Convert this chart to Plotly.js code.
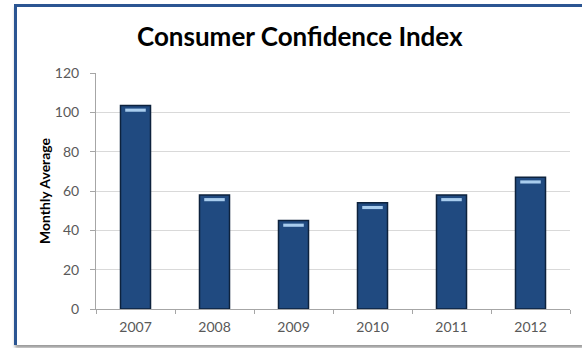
<!DOCTYPE html>
<html>
<head>
<meta charset="utf-8">
<script src="https://cdn.plot.ly/plotly-3.0.1.min.js"></script>
<style>
  html, body { margin: 0; padding: 0; background: #ffffff; }
  #wrap { position: relative; width: 582px; height: 348px; overflow: hidden; background: #ffffff; }
  #frame { position: absolute; left: 14px; top: 4px; width: 566px; height: 338px;
           border-left: 3px solid #2b5592; border-top: 3px solid #2b5592;
           box-shadow: 1px 3px 3px rgba(0,0,0,0.4); background: #ffffff; }
  #chart { position: absolute; left: 0; top: 0; width: 582px; height: 348px; }
</style>
</head>
<body>
<div id="wrap">
  <div id="frame"></div>
  <div id="chart"></div>
</div>
<script>
const years = ['2007', '2008', '2009', '2010', '2011', '2012'];
const monthlyAverage = [103.5, 58, 45, 54, 58, 67];
const yTicks = [0, 20, 40, 60, 80, 100, 120];
const chartTitle = 'Consumer Confidence Index';
const yTitle = 'Monthly Average';

const highlightBase = monthlyAverage.map(v => v - 3.2);
const highlightHeight = monthlyAverage.map(() => 1.6);

const traces = [
  {
    type: 'bar',
    x: years,
    y: monthlyAverage,
    width: 0.38,
    marker: { color: '#204a80', line: { color: '#0d223d', width: 1.5 } },
    hoverinfo: 'x+y'
  },
  {
    type: 'bar',
    x: years,
    y: highlightHeight,
    base: highlightBase,
    width: 0.26,
    marker: { color: '#a9cdee', line: { width: 0 } },
    hoverinfo: 'skip'
  }
];

const layout = {
  width: 582, height: 348,
  margin: { l: 96, r: 12, t: 73, b: 39 },
  paper_bgcolor: 'rgba(0,0,0,0)',
  plot_bgcolor: 'rgba(0,0,0,0)',
  showlegend: false,
  barmode: 'overlay',
  font: { family: 'Lato, "Open Sans", sans-serif', color: '#595959', size: 13 },
  title: {
    text: '<b>' + chartTitle + '</b>',
    font: { family: 'Lato, "Open Sans", sans-serif', size: 26, color: '#000000' },
    x: 0.43, xanchor: 'center', xref: 'paper',
    y: 0.893, yref: 'container', yanchor: 'middle'
  },
  xaxis: {
    type: 'category',
    tickson: 'boundaries',
    ticks: 'outside', ticklen: 4, tickcolor: '#a6a6a6', tickwidth: 1,
    showline: true, linecolor: '#a6a6a6', linewidth: 1,
    showgrid: false, zeroline: false,
    tickfont: { size: 14, color: '#595959' },
    ticklabelstandoff: 5,
    fixedrange: true
  },
  yaxis: {
    range: [0, 120],
    tickvals: yTicks,
    ticktext: yTicks.map(String),
    ticks: 'outside', ticklen: 5, tickcolor: '#a6a6a6', tickwidth: 1,
    showline: true, linecolor: '#a6a6a6', linewidth: 1,
    showgrid: true, gridcolor: '#d9d9d9', gridwidth: 1,
    zeroline: false,
    tickfont: { size: 14, color: '#595959' },
    ticklabelstandoff: 8,
    title: { text: '<b>' + yTitle + '</b>', font: { size: 14, color: '#000000' }, standoff: 0 },
    fixedrange: true
  }
};

Plotly.newPlot('chart', traces, layout, { displayModeBar: false, staticPlot: true });
</script>
</body>
</html>
